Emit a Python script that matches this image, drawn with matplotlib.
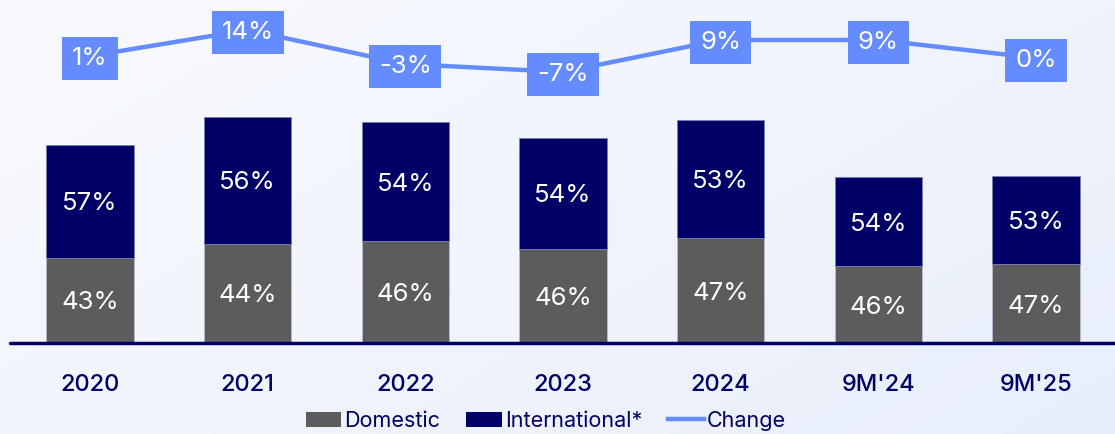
import numpy as np
import matplotlib
matplotlib.use('Agg')
import matplotlib.pyplot as plt
from matplotlib.patches import Patch
from matplotlib.lines import Line2D

plt.rcParams['font.family'] = ['Inter', 'DejaVu Sans']

# data
periods = ['2020', '2021', '2022', '2023', '2024', "9M'24", "9M'25"]
totals = [100, 114, 111.5, 103.5, 112.5, 84, 84.5]   # relative volume
domestic_pct = [43, 44, 46, 46, 47, 46, 47]
intl_pct = [57, 56, 54, 54, 53, 54, 53]
change_pct = [1, 14, -3, -7, 9, 9, 0]

GRAY = '#5c5c5c'
NAVY = '#000066'
BLUE = '#648cff'

fig = plt.figure(figsize=(11.15, 4.34), dpi=100)

# soft background gradient
bg = fig.add_axes([0, 0, 1, 1], zorder=-10)
gx, gy = np.meshgrid(np.linspace(0, 1, 200), np.linspace(0, 1, 80))
g = (gx * 0.6 + gy * 0.4)
c0 = np.array([0.975, 0.98, 0.995])
c1 = np.array([0.91, 0.935, 0.985])
img = c0[None, None, :] * (1 - g[..., None]) + c1[None, None, :] * g[..., None]
bg.imshow(img, aspect='auto', extent=[0, 1, 0, 1], origin='upper')
bg.axis('off')

ax = fig.add_axes([10 / 1115, 91 / 434, 1105 / 1115, 343 / 434])
ax.patch.set_alpha(0)
x = np.arange(len(periods))
dom = np.array(totals) * np.array(domestic_pct) / 100
intl = np.array(totals) * np.array(intl_pct) / 100
w = 0.555

ax.bar(x, dom, width=w, color=GRAY, edgecolor='#b8bccb', linewidth=0.6)
ax.bar(x, intl, width=w, bottom=dom, color=NAVY, edgecolor='#7a7fb0', linewidth=0.6)

for i in range(len(x)):
    ax.text(x[i], dom[i] / 2, f'{domestic_pct[i]}%', ha='center', va='center_baseline',
            color='white', fontsize=18.5)
    ax.text(x[i], dom[i] + intl[i] / 2, f'{intl_pct[i]}%', ha='center', va='center_baseline',
            color='white', fontsize=18.5)

ax.set_xlim(-0.507, 6.501)
ax.set_ylim(0, 173.2)
ax.set_xticks(x)
ax.set_xticklabels(periods, color=NAVY, fontsize=17, fontweight='medium')
ax.tick_params(axis='x', length=0, pad=22)
ax.set_yticks([])
for s in ['top', 'right', 'left']:
    ax.spines[s].set_visible(False)
ax.spines['bottom'].set_color(NAVY)
ax.spines['bottom'].set_linewidth(2.5)
ax.spines['bottom'].set_capstyle('round')

ax2 = ax.twinx()
ax2.set_ylim(-142.5, 29)
ax2.plot(x, change_pct, color=BLUE, linewidth=3.2, zorder=2)
for i in range(len(x)):
    ax2.text(x[i], change_pct[i], f'{change_pct[i]}%', ha='center', va='center_baseline',
             color='white', fontsize=18.5, zorder=3,
             bbox=dict(boxstyle='square,pad=0.38', facecolor=BLUE, edgecolor='none'))
ax2.set_yticks([])
ax2.axis('off')

handles = [Patch(facecolor=GRAY, edgecolor='none'),
           Patch(facecolor=NAVY, edgecolor='none'),
           Line2D([0], [0], color=BLUE, linewidth=3.2)]
fig.legend(handles, ['Domestic', 'International*', 'Change'], loc='center',
           bbox_to_anchor=(546 / 1115, 1 - 421 / 434), ncol=3, frameon=False,
           fontsize=15.5, labelcolor=NAVY, handlelength=1.65, handleheight=0.7,
           handletextpad=0.15, columnspacing=1.2)

fig.savefig('out.png', dpi=100)
